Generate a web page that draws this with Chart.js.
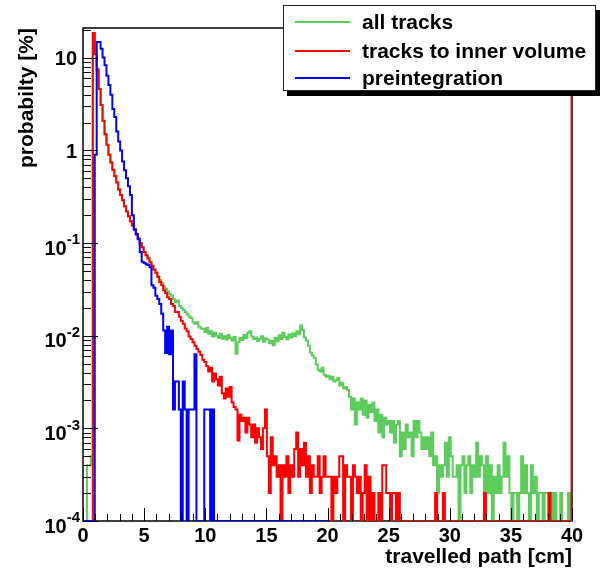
<!DOCTYPE html>
<html>
<head>
<meta charset="utf-8">
<script src="https://cdn.jsdelivr.net/npm/chart.js@4.4.0/dist/chart.umd.min.js"></script>
<style>
  body { margin: 0; background: #fff; }
  #wrap { position: relative; width: 601px; height: 571px; }
  #legend {
    position: absolute; left: 283px; top: 5px; width: 311px; height: 84px;
    border: 1px solid #222; background: #fff; box-shadow: 4px 5px 0 #000;
    font: bold 21px "Liberation Sans", Arial, sans-serif; color: #000;
  }
  #legend .row { position: absolute; left: 0; height: 24px; line-height: 24px; }
  #legend .swatch { position: absolute; left: 11px; width: 55px; height: 2px; }
  #legend .label { position: absolute; left: 78px; white-space: nowrap; }
</style>
</head>
<body>
<div id="wrap">
  <canvas id="chart" width="601" height="571"></canvas>
  <div id="legend"></div>
</div>
<script>
// histogram binning (0.16 cm per bin)
const binWidth = 0.16;

// all tracks [%]
const allTracks = [
  0, 0, 0.0004, 0.0004, 0.0005, 18.5, 11, 7.5, 4.6, 3.1,
  2.1, 1.5, 1.15, 0.9, 0.74, 0.62, 0.53, 0.45, 0.38, 0.33,
  0.29, 0.25, 0.22, 0.195, 0.172, 0.155, 0.14, 0.125, 0.112, 0.1,
  0.09, 0.08, 0.074, 0.068, 0.062, 0.057, 0.052, 0.048, 0.044, 0.040,
  0.037, 0.034, 0.032, 0.030, 0.028, 0.027, 0.025, 0.023, 0.024, 0.021,
  0.020, 0.019, 0.018, 0.017, 0.016, 0.0155, 0.014, 0.0135, 0.014, 0.0125,
  0.012, 0.0118, 0.011, 0.0122, 0.0105, 0.0112, 0.0098, 0.0108, 0.010, 0.0095,
  0.0105, 0.0093, 0.0099, 0.0091, 0.0102, 0.0094, 0.0089, 0.0097, 0.0064, 0.0085,
  0.0095, 0.009, 0.0102, 0.0094, 0.0108, 0.0112, 0.0098, 0.0092, 0.0096, 0.0088,
  0.0093, 0.0099, 0.0086, 0.0094, 0.0091, 0.0083, 0.0088, 0.0079, 0.0095, 0.0087,
  0.0101, 0.0092, 0.0108, 0.0097, 0.0091, 0.0103, 0.0096, 0.0106, 0.0099, 0.0112,
  0.0104, 0.0129, 0.0115, 0.0096, 0.0089, 0.0078, 0.0066, 0.0061, 0.0058, 0.0049,
  0.0043, 0.0041, 0.0045, 0.0038, 0.0036, 0.0037, 0.0034, 0.0036, 0.0032, 0.0033,
  0.0035, 0.0029, 0.0031, 0.0027, 0.0028, 0.0026, 0.0022, 0.0016, 0.0021, 0.0011,
  0.0019, 0.0016, 0.0021, 0.0014, 0.002, 0.0013, 0.0018, 0.0015, 0.0019, 0.0012,
  0.0016, 0.0009, 0.0014, 0.0008, 0.0013, 0.0011, 0.0012, 0.0009, 0.0012, 0.0007,
  0.0011, 0.0012, 0.0005, 0.0009, 0.0006, 0.0011, 0.0008, 0.0009, 0.0005, 0.0012,
  0.0008, 0.0012, 0.0009, 0.0006, 0.0008, 0.0006, 0.0008, 0.0005, 0.0009, 0.0004,
  0.0005, 0.0002, 0.0004, 0.0003, 0.0004, 0.0007, 0.0003, 0.0008, 0.0005, 0.0003,
  0.0003, 0.0004, 0, 0.0004, 0.0005, 0.0002, 0.0004, 0.0005, 0.0002, 0.0004,
  0.0003, 0.0007, 0.0003, 0.0005, 0.0004, 0.0002, 0.0005, 0.0002, 0.0004, 0,
  0.0003, 0.0002, 0.0004, 0.0002, 0.0003, 0.0007, 0.0003, 0.0005, 0.0002, 0,
  0.0002, 0.0002, 0, 0.0002, 0.0005, 0.0002, 0.0004, 0.0002, 0, 0.0004,
  0.0002, 0.0003, 0, 0.0002, 0.0002, 0, 0.0002, 0.0002, 0, 0.0002,
  0, 0.0002, 0, 0, 0.0002, 0, 0, 0, 0.0002, 0
];

// tracks to inner volume [%]
const innerTracks = [
  0, 0, 0, 0, 0, 18.5, 11, 7.5, 4.6, 3.1,
  2.1, 1.5, 1.15, 0.9, 0.74, 0.62, 0.53, 0.45, 0.38, 0.33,
  0.29, 0.25, 0.22, 0.195, 0.172, 0.155, 0.14, 0.125, 0.112, 0.1,
  0.09, 0.08, 0.074, 0.068, 0.062, 0.057, 0.052, 0.048, 0.043, 0.038,
  0.035, 0.031, 0.029, 0.026, 0.025, 0.022, 0.021, 0.018, 0.018, 0.016,
  0.0145, 0.0135, 0.012, 0.0112, 0.0098, 0.0092, 0.0085, 0.0078, 0.0072, 0.0067,
  0.0062, 0.0055, 0.0052, 0.0047, 0.0041, 0.0045, 0.0032, 0.0039, 0.0034, 0.0029,
  0.0036, 0.0024, 0.0021, 0.0027, 0.0022, 0.0028, 0.0019, 0.0017, 0.0016, 0.00074,
  0.0014, 0.0012, 0.0013, 0.0009, 0.0013, 0.0011, 0.0008, 0.0011, 0.0007, 0.001,
  0.0008, 0.0006, 0.001, 0.0016, 0.0005, 0.0002, 0.0008, 0.0004, 0.0005, 0.0003,
  0.0004, 0, 0.0004, 0.0003, 0.0005, 0.0002, 0.0004, 0.0003, 0.0006, 0.0009,
  0.0003, 0.0006, 0.0004, 0.0007, 0.0003, 0.0005, 0.0002, 0.0004, 0.0003, 0.0003,
  0.0005, 0.0002, 0.0003, 0.0005, 0.0003, 0.0003, 0.0003, 0, 0.0003, 0.0002,
  0.0003, 0.0005, 0.0005, 0, 0.0004, 0.0003, 0.0003, 0, 0.0004, 0.0003,
  0.0002, 0.0003, 0, 0.0002, 0.0004, 0, 0.0003, 0, 0.0002, 0,
  0, 0.0002, 0, 0.0004, 0.0004, 0.0002, 0.0002, 0, 0.0002, 0.0002,
  0, 0.0002, 0, 0, 0, 0, 0, 0, 0, 0,
  0, 0, 0, 0, 0, 0, 0, 0, 0, 0,
  0.0002, 0, 0, 0, 0.0002, 0, 0, 0, 0, 0,
  0, 0, 0, 0, 0, 0, 0, 0, 0, 0,
  0, 0, 0, 0, 0, 0.0002, 0, 0, 0, 0,
  0, 0, 0, 0, 0, 0, 0, 0, 0, 0,
  0, 0, 0, 0, 0, 0, 0, 0, 0, 0,
  0, 0, 0, 0, 0, 0, 0, 0, 0.0002, 0,
  0, 0, 0, 0, 0, 0, 0, 0, 0, 0
];

// preintegration [%] (histogram covers 0-20 cm)
const preintegration = [
  0, 0, 0, 0, 0, 0, 0.9, 14.8, 14.8, 12.5,
  10.1, 8.3, 6.4, 5.1, 4.0, 2.8, 2.3, 1.6, 1.25, 1.0,
  0.76, 0.61, 0.5, 0.41, 0.33, 0.2, 0.14, 0.125, 0.11, 0.08,
  0.063, 0.061, 0.059, 0.058, 0.055, 0.035, 0.033, 0.027, 0.025, 0.022,
  0.0173, 0.0114, 0.0065, 0.0125, 0.0063, 0.0114, 0.0016, 0.0032, 0.0032, 0.0016,
  0, 0.0032, 0.0016, 0, 0.0016, 0.0016, 0.0016, 0.0063, 0, 0,
  0, 0, 0.0016, 0.0016, 0.0016, 0, 0.0016, 0, 0, 0,
  0, 0, 0, 0, 0, 0, 0, 0, 0, 0,
  0, 0, 0, 0, 0, 0, 0, 0, 0, 0,
  0, 0, 0, 0, 0, 0, 0, 0, 0, 0,
  0, 0, 0, 0, 0, 0, 0, 0, 0, 0,
  0, 0, 0, 0, 0, 0, 0, 0, 0, 0,
  0, 0, 0, 0, 0
];

const seriesNames = ['all tracks', 'tracks to inner volume', 'preintegration'];
const seriesColors = ['rgb(92,204,92)', '#ff0000', '#0000ff'];

// axes
const xMin = 0, xMax = 40;
const yMin = 1e-4, yMax = 21;
const xTickLabels = ['0', '5', '10', '15', '20', '25', '30', '35', '40'];
const yTickValues = [1e-4, 1e-3, 1e-2, 1e-1, 1, 10];
const yTickBase = ['10', '10', '10', '10', '1', '10'];
const yTickExp = ['-4', '-3', '-2', '-1', '', ''];
const xTitle = 'travelled path [cm]';
const yTitle = 'probabilty [%]';

const FONT = '"Liberation Sans", Arial, sans-serif';

// bins -> step points (low edges + closing point), empty bins sit on the axis floor
function toSteps(values) {
  const pts = values.map((v, i) => ({ x: i * binWidth, y: v > 0 ? v : yMin }));
  const last = pts[pts.length - 1];
  pts.push({ x: values.length * binWidth, y: last.y });
  return pts;
}

const rootFrame = {
  id: 'rootFrame',
  beforeDraw(chart) {
    const ctx = chart.ctx;
    ctx.save();
    ctx.fillStyle = '#fff';
    ctx.fillRect(0, 0, chart.width, chart.height);
    ctx.restore();
  },
  beforeDatasetsDraw(chart) {
    const { ctx, chartArea: a } = chart;
    ctx.save();
    ctx.strokeStyle = '#000';
    ctx.lineWidth = 1.5;
    ctx.strokeRect(a.left, a.top, a.right - a.left, a.bottom - a.top);
    ctx.restore();
  },
  afterDatasetsDraw(chart) {
    const { ctx, chartArea: a, scales: { x, y } } = chart;
    ctx.save();

    // red line along the right edge
    ctx.strokeStyle = '#ff0000';
    ctx.lineWidth = 1;
    const xr = x.getPixelForValue(xMax) - 1;
    ctx.beginPath();
    ctx.moveTo(xr, a.top);
    ctx.lineTo(xr, a.bottom);
    ctx.stroke();

    // ticks (inside the frame)
    ctx.strokeStyle = '#000';
    ctx.lineWidth = 1;
    ctx.beginPath();
    for (let v = xMin; v <= xMax; v += 1) {
      const px = Math.round(x.getPixelForValue(v)) + 0.5;
      const len = v % 5 === 0 ? 13 : 7;
      ctx.moveTo(px, a.bottom);
      ctx.lineTo(px, a.bottom - len);
    }
    for (let d = -4; d <= 1; d++) {
      for (let m = 1; m <= 9; m++) {
        const val = m * Math.pow(10, d);
        if (val > yMax) break;
        const py = Math.round(y.getPixelForValue(val)) + 0.5;
        const len = m === 1 ? 15 : 8;
        ctx.moveTo(a.left, py);
        ctx.lineTo(a.left + len, py);
      }
    }
    ctx.stroke();

    // tick labels
    ctx.fillStyle = '#000';
    ctx.font = 'bold 20px ' + FONT;
    ctx.textAlign = 'center';
    ctx.textBaseline = 'middle';
    xTickLabels.forEach(lbl => {
      ctx.fillText(lbl, x.getPixelForValue(Number(lbl)), a.bottom + 15);
    });

    ctx.textAlign = 'right';
    yTickValues.forEach((val, i) => {
      const py = y.getPixelForValue(val);
      const right = a.left - 3;
      if (yTickExp[i]) {
        ctx.font = 'bold 15px ' + FONT;
        const ew = ctx.measureText(yTickExp[i]).width;
        ctx.fillText(yTickExp[i], right, py - 3);
        ctx.font = 'bold 20px ' + FONT;
        ctx.fillText(yTickBase[i], right - ew, py + 6);
      } else {
        ctx.font = 'bold 20px ' + FONT;
        ctx.fillText(yTickBase[i], right - 3, py + 2);
      }
    });

    // axis titles
    ctx.font = 'bold 21px ' + FONT;
    ctx.textAlign = 'right';
    ctx.fillText(xTitle, a.right, a.bottom + 36);
    ctx.translate(27, a.top);
    ctx.rotate(-Math.PI / 2);
    ctx.fillText(yTitle, 0, 0);
    ctx.restore();
  }
};

const seriesData = [allTracks, innerTracks, preintegration];

new Chart(document.getElementById('chart'), {
  type: 'line',
  data: {
    datasets: seriesData.map((vals, i) => ({
      label: seriesNames[i],
      data: toSteps(vals),
      borderColor: seriesColors[i],
      borderWidth: 2,
      pointRadius: 0,
      fill: false,
      stepped: 'before',
      order: 3 - i
    }))
  },
  options: {
    responsive: false,
    animation: false,
    events: [],
    layout: { padding: { left: 83, top: 28, right: 29, bottom: 50 } },
    plugins: { legend: { display: false }, tooltip: { enabled: false } },
    scales: {
      x: { type: 'linear', min: xMin, max: xMax, display: false },
      y: { type: 'logarithmic', min: yMin, max: yMax, display: false }
    }
  },
  plugins: [rootFrame]
});

// legend box (ROOT style, with drop shadow)
const rowCenters = [16, 44.5, 72];
const legend = document.getElementById('legend');
seriesNames.forEach((name, i) => {
  const row = document.createElement('div');
  row.className = 'row';
  row.style.top = (rowCenters[i] - 12) + 'px';
  row.innerHTML = '<span class="swatch" style="top:11px;background:' + seriesColors[i] + '"></span>' +
    '<span class="label">' + name + '</span>';
  legend.appendChild(row);
});
</script>
</body>
</html>
